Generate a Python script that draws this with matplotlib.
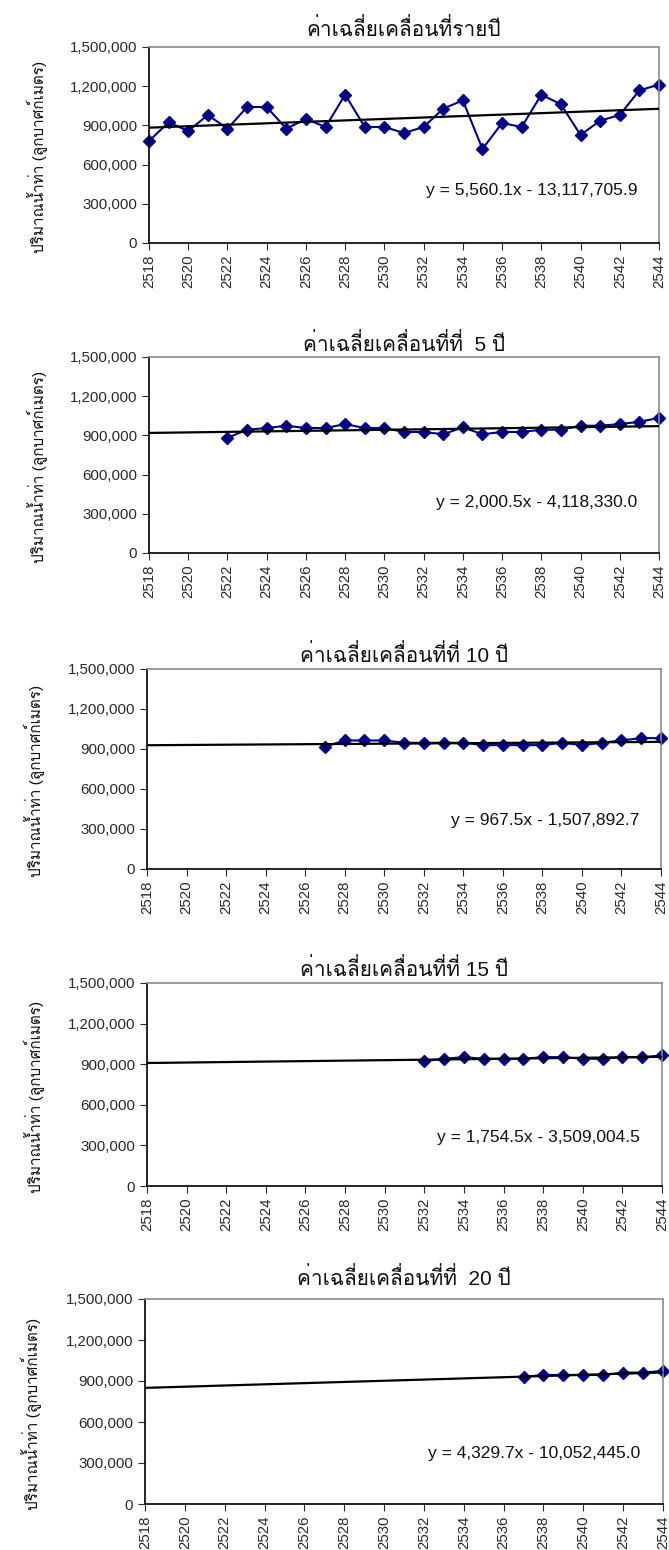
import numpy as np
import matplotlib
matplotlib.use('Agg')
import matplotlib.pyplot as plt
from matplotlib import font_manager
from matplotlib.ft2font import FT2Font
from matplotlib.ticker import FuncFormatter

# annual runoff and its moving averages (cubic metres), Thai Buddhist-era years
years = list(range(2518, 2545))
annual = [780600, 923500, 857000, 979600, 875000, 1040800, 1040800, 875000, 949000,
          887800, 1135200, 887800, 887800, 841800, 887800, 1028000, 1091800, 719400,
          918400, 887800, 1135200, 1061200, 826500, 936200, 979600, 1168400, 1211700]
ma5 = [881000, 943800, 956400, 974000, 956400, 956400, 986600, 956400, 956400, 926200,
       926200, 908600, 961400, 908600, 926200, 926200, 943800, 943800, 974000, 974000,
       986600, 1004000, 1034000]
ma10 = [916500, 964000, 964000, 964000, 946600, 946600, 946600, 946600, 929000, 929000,
        929000, 929000, 946600, 929000, 946600, 964000, 981600, 981600]
ma15 = [922700, 940000, 952300, 940000, 940000, 940000, 952300, 952300, 940000, 940000,
        952300, 952300, 964600]
ma20 = [930000, 944500, 944500, 944500, 944500, 961700, 961700, 974000]

series = [annual, ma5, ma10, ma15, ma20]
titles = ['ค่าเฉลี่ยเคลื่อนที่รายปี', 'ค่าเฉลี่ยเคลื่อนที่ที่  5 ปี', 'ค่าเฉลี่ยเคลื่อนที่ที่ 10 ปี',
          'ค่าเฉลี่ยเคลื่อนที่ที่ 15 ปี', 'ค่าเฉลี่ยเคลื่อนที่ที่  20 ปี']
# linear trend coefficients (slope, intercept)
slopes = [5560.1, 2000.5, 967.5, 1754.5, 4329.7]
intercepts = [-13117705.9, -4118330.0, -1507892.7, -3509004.5, -10052445.0]
ylabel = 'ปริมาณน้ำท่า (ลูกบาศก์เมตร)'


def find_thai_font():
    # look for any installed face that carries Thai glyphs
    found = []
    for f in font_manager.fontManager.ttflist:
        try:
            if 0x0E01 in FT2Font(f.fname).get_charmap():
                found.append(f)
        except Exception:
            pass
    if not found:
        return None
    found.sort(key=lambda f: (f.weight not in ('normal', 400), f.style != 'normal',
                              'Serif' in f.name))
    return found[0].name


thai = find_thai_font()
fams = ['Liberation Sans', 'DejaVu Sans']
if thai:
    fams = ['Liberation Sans', thai, 'DejaVu Sans']
plt.rcParams['font.family'] = fams

fig = plt.figure(figsize=(6.69, 15.5), dpi=100)

# axes boxes in pixels: left, right, top, bottom
boxes = [(149, 659, 47, 243), (149, 659, 357, 553), (147, 661, 669, 869),
         (147, 662, 983, 1186), (145, 663, 1299, 1504)]
eq_y = [0.27, 0.26, 0.24, 0.237, 0.245]
title_pad = [8, 4, 5, 5, 10]
W, H = 669, 1550

fmt = FuncFormatter(lambda v, p: f'{int(v):,}')

for i in range(5):
    l, r, t, b = boxes[i]
    ax = fig.add_axes([l / W, 1 - b / H, (r - l) / W, (b - t) / H])
    vals = series[i]
    xs = years[len(years) - len(vals):]

    tx = np.array([2518, 2544])
    ax.plot(tx, slopes[i] * tx + intercepts[i], color='black', lw=1.6, zorder=3)
    ax.plot(xs, vals, color='#000080', lw=1.5, marker='D', markersize=6.5,
            clip_on=False, zorder=2)

    ax.set_xlim(2518, 2544)
    ax.set_ylim(0, 1500000)
    ax.set_yticks(range(0, 1500001, 300000))
    ax.yaxis.set_major_formatter(fmt)
    ax.set_xticks(range(2518, 2545, 2))
    ax.tick_params(axis='x', rotation=90, labelsize=10.8, length=5, colors='#2a2a2a')
    ax.tick_params(axis='y', labelsize=10.8, length=5, colors='#2a2a2a')
    for s in ['left', 'bottom']:
        ax.spines[s].set_color('black')
        ax.spines[s].set_linewidth(1.2)
    for s in ['top', 'right']:
        ax.spines[s].set_color('#8c8c8c')
        ax.spines[s].set_linewidth(1.2)

    ax.set_title(titles[i], fontsize=15, pad=title_pad[i], color='#111111')
    ax.set_ylabel(ylabel, fontsize=11, color='#111111')
    ax.yaxis.set_label_coords(-0.198, 0.44)

    sign = '-' if intercepts[i] < 0 else '+'
    eq = f'y = {slopes[i]:,.1f}x {sign} {abs(intercepts[i]):,.1f}'
    ax.text(0.957, eq_y[i], eq, transform=ax.transAxes, ha='right', va='center',
            fontsize=12.5, color='#111111')

fig.savefig('out.png', dpi=100)
plt.close(fig)
